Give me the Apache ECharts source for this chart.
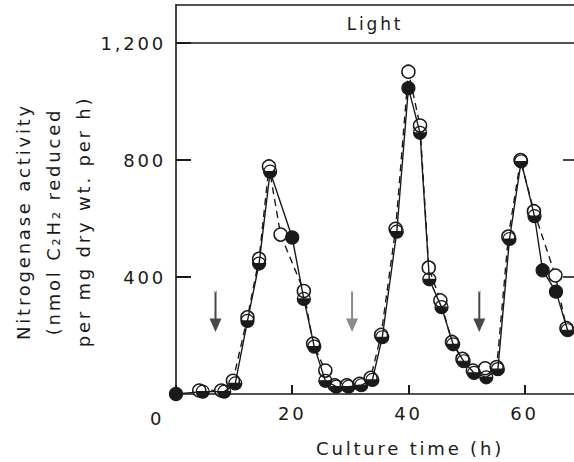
<!DOCTYPE html>
<html>
<head>
<meta charset="utf-8">
<script src="https://cdn.jsdelivr.net/npm/echarts@6/dist/echarts.min.js"></script>
<style>
  html, body { margin: 0; padding: 0; background: #fff; }
  #chart { width: 574px; height: 462px; }
  #chart text { letter-spacing: 2.8px; }
</style>
</head>
<body>
<div id="chart"></div>
<script>
// Open circles, dashed line
const openTimes  = [4.0, 7.8, 9.8, 12.3, 14.3, 16.0, 18.0, 22.0, 23.6, 25.7, 27.3, 29.4, 31.6, 33.5, 35.3, 37.8, 40.0, 42.0, 43.5, 45.5, 47.5, 49.3, 51.1, 53.2, 55.2, 57.2, 59.3, 61.6, 65.3, 67.2];
const openValues = [12, 12, 45, 262, 462, 778, 545, 352, 172, 80, 30, 30, 35, 55, 202, 565, 1102, 918, 432, 320, 178, 120, 80, 88, 92, 538, 800, 625, 405, 225];
// Filled circles, solid line
const filledTimes  = [0, 4.6, 8.3, 10.2, 12.3, 14.3, 16.2, 20.0, 22.0, 23.8, 25.7, 27.6, 29.7, 31.9, 33.8, 35.5, 38.0, 40.0, 42.0, 43.6, 45.7, 47.7, 49.5, 51.3, 53.4, 55.4, 57.4, 59.4, 61.7, 63.1, 65.4, 67.4];
const filledValues = [0, 8, 8, 36, 250, 446, 760, 535, 325, 162, 45, 25, 25, 30, 48, 194, 555, 1046, 893, 392, 297, 170, 112, 72, 57, 85, 530, 795, 608, 423, 350, 218];
// Arrows (annotation)
const arrowTimes = [6.8, 30.3, 52.2];
const arrowColors = ['#1a1a1a', '#6e6e6e', '#1a1a1a'];
const arrowLevel = 284;
// Axis ticks and labels
const xTicks = [0, 20, 40, 60];
const xTickLabels = ['0', '20', '40', '60'];
const yTicks = [400, 800, 1200];
const yTickLabels = ['400', '800', '1,200'];
const rightTicks = [400, 800];
const lightBand = [1200, 1330];
const lightLabel = 'Light';
const xName = 'Culture time (h)';
const yName = 'Nitrogenase activity\n(nmol C\u2082H\u2082 reduced\nper mg dry wt. per h)';

const ink = '#1a1a1a';
const font = 'DejaVu Sans';
// circle outline with lower half filled (overlapping filled/open markers)
const halfSymbol = 'path://M0,10 A10,10 0 1,1 20,10 A10,10 0 1,1 0,10 Z M0,10 L20,10 A10,10 0 0,0 0,10 Z';

const openData = openTimes.map((t, i) => [t, openValues[i]]);
const filledData = filledTimes.map((t, i) => {
  const v = filledValues[i];
  const overlaps = openTimes.some((ot, j) => Math.abs(ot - t) < 0.8 && Math.abs(openValues[j] - v) < 45);
  return { value: [t, v], symbol: overlaps ? halfSymbol : 'circle' };
});
const arrowData = arrowTimes.map((t, i) => ({ value: [t, arrowLevel], itemStyle: { color: arrowColors[i] } }));

const chart = echarts.init(document.getElementById('chart'), null, { renderer: 'svg' });
chart.setOption({
  backgroundColor: '#fff',
  animation: false,
  grid: { left: 173, right: 0, top: 5, bottom: 68, containLabel: false },
  xAxis: [{
    type: 'value', min: 0, max: 68.5, interval: 20,
    name: xName, nameLocation: 'middle', nameGap: 45,
    nameTextStyle: { fontFamily: font, fontSize: 18, color: ink, padding: [0, 0, 0, 70] },
    axisLine: { show: true, onZero: false, lineStyle: { color: ink, width: 1.6 } },
    axisTick: { show: true, inside: true, length: 9, lineStyle: { color: ink, width: 2 } },
    splitLine: { show: false },
    axisLabel: {
      margin: 10, fontFamily: font, fontSize: 18, color: ink, showMaxLabel: false,
      formatter: v => {
        const i = xTicks.indexOf(v);
        if (i < 0) return '';
        return v === 0 ? '{z|' + xTickLabels[i] + '}' : xTickLabels[i];
      },
      rich: { z: { fontFamily: font, fontSize: 18, color: ink, padding: [5, 38, 0, 0] } }
    }
  }, {
    type: 'value', position: 'top', min: 0, max: 68.5,
    axisLine: { show: true, onZero: false, lineStyle: { color: ink, width: 1.6 } },
    axisTick: { show: false }, axisLabel: { show: false }, splitLine: { show: false }
  }],
  yAxis: [{
    type: 'value', min: 0, max: lightBand[1], interval: 400,
    name: yName, nameLocation: 'middle', nameGap: 78, nameRotate: 90,
    nameTextStyle: { fontFamily: font, fontSize: 18, color: ink, lineHeight: 30, padding: [0, 44, 0, 0] },
    axisLine: { show: true, onZero: false, lineStyle: { color: ink, width: 1.6 } },
    axisTick: { show: true, inside: true, length: 15, lineStyle: { color: ink, width: 2 } },
    splitLine: { show: false },
    axisLabel: {
      margin: 10, fontFamily: font, fontSize: 18, color: ink, showMinLabel: false, showMaxLabel: false,
      formatter: v => { const i = yTicks.indexOf(v); return i < 0 ? '' : yTickLabels[i]; }
    }
  }],
  series: [{
    type: 'line', name: 'open', data: openData, z: 2,
    symbol: 'circle', symbolSize: 13,
    lineStyle: { color: ink, width: 1.4, type: [7, 5] },
    itemStyle: { color: '#fff', borderColor: ink, borderWidth: 1.5 },
    markArea: {
      silent: true,
      itemStyle: { color: 'rgba(0,0,0,0)', borderWidth: 0 },
      label: { show: true, position: 'inside', fontFamily: font, fontSize: 17, color: ink },
      data: [[{ yAxis: lightBand[0], name: lightLabel }, { yAxis: lightBand[1] }]]
    },
    markLine: {
      silent: true, symbol: 'none',
      lineStyle: { color: ink, width: 1.6, type: 'solid' },
      label: { show: false },
      data: [{ yAxis: lightBand[0] }].concat(
        rightTicks.map(v => [{ coord: [66.6, v] }, { coord: [68.5, v] }])
      ).map(d => d)
    }
  }, {
    type: 'line', name: 'filled', data: filledData, z: 3,
    symbol: 'circle', symbolSize: 13,
    lineStyle: { color: ink, width: 1.4 },
    itemStyle: { color: ink, borderColor: ink, borderWidth: 1.2 }
  }, {
    type: 'scatter', name: 'arrows', data: arrowData, z: 4,
    symbol: 'path://M5,0 L6,3 L7,0 L7,30 L12,30 L6,44 L0,30 L5,30 Z',
    symbolSize: [12, 42]
  }]
});
</script>
</body>
</html>
